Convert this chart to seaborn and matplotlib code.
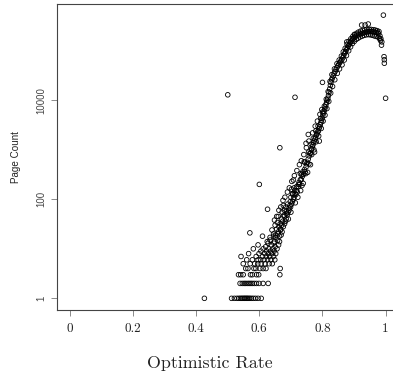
import pandas as pd
import seaborn as sns
import matplotlib.pyplot as plt
from matplotlib.ticker import NullLocator

# low page counts (discrete rows at the bottom of the cloud)
rate_low = [0.426, 0.512, 0.521, 0.529, 0.535, 0.540, 0.544, 0.548, 0.552, 0.555, 0.559, 0.562, 0.566, 0.570, 0.575, 0.581, 0.588, 0.596, 0.606,
            0.539, 0.546, 0.552, 0.557, 0.563, 0.568, 0.573, 0.578, 0.584, 0.591, 0.599, 0.612, 0.628,
            0.534, 0.541, 0.549, 0.572, 0.578, 0.591, 0.598, 0.665,
            0.557, 0.564, 0.583, 0.589, 0.602, 0.612, 0.621, 0.666,
            0.549, 0.571, 0.585, 0.595, 0.606, 0.618, 0.631, 0.641,
            0.560, 0.578, 0.596, 0.604, 0.615, 0.626, 0.637, 0.649,
            0.542, 0.590, 0.610, 0.622, 0.633, 0.645,
            0.566, 0.599, 0.617, 0.628, 0.640, 0.652,
            0.605, 0.623, 0.636, 0.647,
            0.581, 0.612, 0.630, 0.643, 0.656,
            0.620, 0.650, 0.596, 0.638, 0.661, 0.628, 0.646, 0.648, 0.625, 0.664, 0.658, 0.634,
            0.634, 0.652, 0.610, 0.664, 0.645, 0.652, 0.669, 0.645, 0.659, 0.570, 0.660, 0.672,
            0.640, 0.667, 0.668, 0.655, 0.662, 0.676, 0.650, 0.671, 0.666, 0.680, 0.657, 0.674,
            0.683, 0.648, 0.670, 0.685, 0.660, 0.679, 0.678, 0.688, 0.687, 0.672, 0.691, 0.686]
pages_low = [1, 1, 1, 1, 1, 1, 1, 1, 1, 1, 1, 1, 1, 1, 1, 1, 1, 1, 1,
             2, 2, 2, 2, 2, 2, 2, 2, 2, 2, 2, 2, 2,
             3, 3, 3, 3, 3, 3, 3, 3,
             4, 4, 4, 4, 4, 4, 4, 4,
             5, 5, 5, 5, 5, 5, 5, 5,
             6, 6, 6, 6, 6, 6, 6, 6,
             7, 7, 7, 7, 7, 7,
             8, 8, 8, 8, 8, 8,
             9, 9, 9, 9,
             10, 10, 10, 10, 10,
             11, 11, 12, 12, 12, 13, 13, 14, 14, 14, 15, 15,
             17, 17, 18, 18, 18, 19, 19, 20, 20, 21, 22, 22,
             24, 24, 25, 25, 28, 28, 30, 30, 32, 32, 34, 36,
             36, 38, 40, 40, 45, 45, 48, 48, 52, 55, 55, 58]

# mid section of the rising band
rate_mid = [0.680, 0.694, 0.694, 0.684, 0.699, 0.676, 0.697, 0.690, 0.702, 0.698, 0.705, 0.708,
            0.700, 0.710, 0.716, 0.706, 0.705, 0.713, 0.720, 0.712, 0.718, 0.702, 0.710, 0.718,
            0.723, 0.724, 0.728, 0.726, 0.730, 0.733, 0.736, 0.740, 0.734, 0.745, 0.738, 0.743,
            0.748, 0.750, 0.752, 0.755, 0.758, 0.760, 0.763, 0.765]
pages_mid = [60, 60, 66, 70, 70, 75, 75, 80, 80, 90, 90, 100,
             110, 110, 125, 125, 130, 130, 140, 150, 150, 160, 170, 180,
             180, 200, 200, 220, 250, 250, 290, 320, 320, 360, 360, 400,
             450, 520, 560, 650, 750, 850, 850, 1000]

# extra spread on both sides of the rising band
rate_spread = [0.655, 0.662, 0.668, 0.675, 0.681, 0.689, 0.695, 0.703, 0.711, 0.719, 0.727, 0.733,
               0.741, 0.749, 0.757, 0.769, 0.777, 0.784, 0.792, 0.798,
               0.692, 0.700, 0.714, 0.722, 0.731, 0.739, 0.753, 0.762, 0.775, 0.790]
pages_spread = [45, 60, 70, 95, 110, 140, 170, 230, 300, 380, 500, 600,
                800, 1100, 1500, 2200, 3000, 3800, 5200, 6500,
                40, 55, 85, 110, 150, 210, 350, 500, 900, 1500]

# main band, centre
rate_band = [0.766, 0.768, 0.770, 0.772, 0.774, 0.776, 0.778, 0.781, 0.783, 0.785, 0.787, 0.789,
             0.791, 0.793, 0.795, 0.797, 0.799, 0.801, 0.803, 0.805, 0.807, 0.809, 0.811, 0.813,
             0.815, 0.817, 0.819, 0.821, 0.823, 0.825, 0.827, 0.829, 0.831, 0.834, 0.837, 0.840,
             0.843, 0.846, 0.849, 0.852, 0.855, 0.858, 0.861, 0.864, 0.867, 0.870, 0.873, 0.876,
             0.879, 0.882, 0.885, 0.888, 0.891, 0.894, 0.897, 0.900, 0.905, 0.910, 0.915, 0.920,
             0.925, 0.930, 0.935, 0.940, 0.945, 0.950, 0.955, 0.960, 0.965, 0.970, 0.975, 0.978,
             0.982, 0.985, 0.988]
pages_band = [1050, 1150, 1260, 1400, 1500, 1650, 1800, 2000, 2100, 2300, 2400, 2700,
              2900, 3200, 3550, 3900, 4300, 4900, 5500, 6000, 6600, 7300, 8200, 9000,
              10000, 11000, 12500, 14500, 17000, 20000, 23000, 26000, 28000, 31000, 35000, 38000,
              42000, 46000, 50000, 54000, 58000, 62000, 66000, 72000, 80000, 88000, 96000, 105000,
              115000, 125000, 135000, 145000, 155000, 165000, 175000, 182000, 195000, 204000, 212000, 219000,
              225000, 229000, 234000, 240000, 243000, 245000, 244000, 242000, 238000, 235000, 230000, 222000,
              200000, 175000, 151000]

# main band, upper edge
rate_upper = [0.730, 0.744, 0.756, 0.764, 0.771, 0.779, 0.786, 0.794, 0.800, 0.806, 0.812, 0.818,
              0.824, 0.830, 0.838, 0.846, 0.853, 0.860, 0.866, 0.872, 0.878, 0.884, 0.890, 0.896,
              0.902, 0.908, 0.914, 0.921, 0.928, 0.934, 0.941, 0.948, 0.954, 0.961, 0.967, 0.973, 0.979]
pages_upper = [330, 560, 900, 1300, 1700, 2400, 3000, 4300, 5800, 7600, 10500, 15000,
               24000, 33000, 43000, 55000, 65000, 78000, 95000, 112000, 135000, 155000, 175000, 195000,
               210000, 225000, 238000, 250000, 258000, 265000, 270000, 272000, 270000, 266000, 262000, 255000, 245000]

# main band, lower edge
rate_lower = [0.735, 0.747, 0.757, 0.766, 0.773, 0.780, 0.788, 0.796, 0.802, 0.808, 0.814, 0.820,
              0.826, 0.832, 0.839, 0.847, 0.854, 0.862, 0.869, 0.876, 0.883, 0.889, 0.895, 0.901,
              0.907, 0.913, 0.919, 0.926, 0.932, 0.939, 0.946, 0.952, 0.958, 0.964, 0.970, 0.976,
              0.981, 0.984, 0.987]
pages_lower = [190, 330, 520, 800, 1000, 1450, 1900, 2700, 3800, 5000, 6800, 9500,
               14000, 19000, 26000, 35000, 43000, 52000, 65000, 80000, 100000, 120000, 140000, 155000,
               170000, 180000, 190000, 198000, 205000, 210000, 212000, 210000, 206000, 200000, 195000, 190000,
               175000, 160000, 130000]

# scattered points away from the band
rate_out = [0.500, 0.713, 0.665, 0.600, 0.626, 0.800, 0.755, 0.748, 0.742, 0.708,
            0.877, 0.901, 0.924, 0.935, 0.945, 0.993, 0.995, 0.996, 0.996, 1.000]
pages_out = [12900, 11500, 1100, 200, 63, 23000, 2040, 1350, 575, 245,
             151000, 214000, 331000, 331000, 347000, 525000, 76000, 66000, 56000, 11000]

df = pd.DataFrame({
    "rate": rate_low + rate_mid + rate_spread + rate_band + rate_upper + rate_lower + rate_out,
    "pages": pages_low + pages_mid + pages_spread + pages_band + pages_upper + pages_lower + pages_out,
})

sns.set_style("white")
plt.rcParams['font.family'] = ['Liberation Sans', 'DejaVu Sans']

fig = plt.figure(figsize=(3.93, 3.76), dpi=100)
ax = fig.add_axes([0.1458, 0.1755, 0.8675, 0.8131])

sns.scatterplot(data=df, x="rate", y="pages", ax=ax, marker="o", s=11,
                color="black", facecolors="none", edgecolor="black", linewidth=0.6)

ax.set_yscale("log")
ax.set_xlim(-0.04, 1.04)
ax.set_ylim(10 ** -0.236, 10 ** 5.939)

ax.set_xticks([0, 0.2, 0.4, 0.6, 0.8, 1])
ax.set_xticklabels(["0", "0.2", "0.4", "0.6", "0.8", "1"], fontfamily="cmr10", fontsize=9.5, color="#222222")
ax.set_yticks([1, 100, 10000])
ax.set_yticklabels(["1", "100", "10000"], rotation=90, va="center", fontsize=6.9, color="#444444")
ax.yaxis.set_minor_locator(NullLocator())

ax.tick_params(axis="both", direction="out", length=4, width=0.6, color="#777777", bottom=True, left=True)
ax.tick_params(axis="x", pad=5)
ax.tick_params(axis="y", pad=4)

for side in ["left", "top", "bottom"]:
    ax.spines[side].set_color("#444444")
    ax.spines[side].set_linewidth(0.8)
ax.spines["right"].set_visible(False)

ax.set_xlabel("Optimistic Rate", fontfamily="cmr10", fontsize=12.9, color="#222222")
ax.xaxis.set_label_coords(0.448, -0.148)
ax.set_ylabel("Page Count", fontsize=7.1, color="#222222")
ax.yaxis.set_label_coords(-0.107, 0.5)

fig.savefig("out.png", dpi=100)
